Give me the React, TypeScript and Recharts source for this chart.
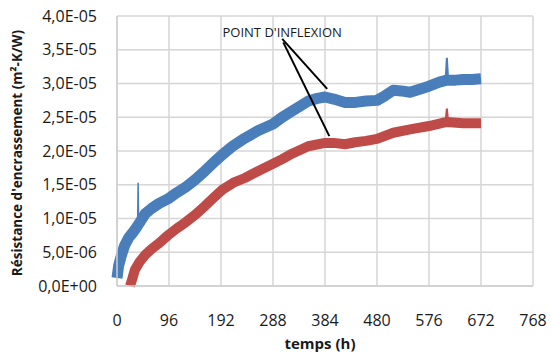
import React from "react";
import { LineChart, Line, XAxis, YAxis, CartesianGrid, ReferenceLine, ReferenceDot } from "recharts";

// time in hours, values in units of 1E-05 m²·K/W
const blueTimes = [0, 3, 8, 14, 22, 30, 37, 45, 52, 64, 77, 94, 110, 126, 145, 163, 180, 195, 215, 236, 260, 288, 305, 323, 353, 370, 384, 400, 421, 440, 460, 480, 495, 510, 525, 541, 560, 576, 595, 609, 625, 639, 655, 672];
const blueValues = [0.12, 0.3, 0.45, 0.6, 0.72, 0.8, 0.88, 0.98, 1.07, 1.15, 1.22, 1.29, 1.38, 1.46, 1.58, 1.71, 1.84, 1.95, 2.08, 2.19, 2.3, 2.4, 2.5, 2.59, 2.74, 2.78, 2.8, 2.77, 2.72, 2.72, 2.74, 2.75, 2.82, 2.9, 2.89, 2.87, 2.92, 2.96, 3.02, 3.05, 3.05, 3.06, 3.06, 3.07];
const redTimes = [24, 28, 33, 42, 52, 64, 77, 94, 110, 126, 145, 163, 180, 195, 215, 236, 260, 288, 305, 323, 353, 384, 400, 421, 440, 460, 480, 510, 541, 576, 609, 639, 672];
const redValues = [0, 0.1, 0.24, 0.36, 0.46, 0.55, 0.63, 0.75, 0.85, 0.94, 1.06, 1.19, 1.32, 1.43, 1.53, 1.6, 1.7, 1.81, 1.88, 1.96, 2.07, 2.12, 2.12, 2.1, 2.13, 2.15, 2.18, 2.27, 2.32, 2.37, 2.43, 2.41, 2.41];
const blueSpikeTimes = [38, 39, 40];
const blueSpikeValues = [0.9, 1.53, 0.9];
const blueSpike2Times = [607, 609, 611];
const blueSpike2Values = [3.1, 3.38, 3.1];
const redSpikeTimes = [607, 609, 611];
const redSpikeValues = [2.46, 2.63, 2.46];

const xTicks = [0, 96, 192, 288, 384, 480, 576, 672, 768];
const yTicks = [0, 0.5, 1, 1.5, 2, 2.5, 3, 3.5, 4];

const annotationText = "POINT D'INFLEXION";
const annotationAnchor = { t: 305, v: 3.76 };
const arrowBlue = [{ x: 305, y: 3.66 }, { x: 388, y: 2.92 }];
const arrowRed = [{ x: 307, y: 3.61 }, { x: 392, y: 2.22 }];

const toRows = (ts: number[], vs: number[]) => ts.map((t, i) => ({ t, v: vs[i] }));

const blueData = toRows(blueTimes, blueValues);
const redData = toRows(redTimes, redValues);
const blueSpike = toRows(blueSpikeTimes, blueSpikeValues);
const blueSpike2 = toRows(blueSpike2Times, blueSpike2Values);
const redSpike = toRows(redSpikeTimes, redSpikeValues);

const BLUE = "#4a7ebb";
const RED = "#be4b48";
const FONT = "'Open Sans', sans-serif";

const fmtY = (v: number) => {
  const s = (v * 1e-5).toExponential(1).replace(".", ",");
  return s.replace(/e([+-])(\d+)$/, (_m, sg, d) => "E" + sg + (d.length < 2 ? "0" + d : d));
};

export default function App() {
  return (
    <div style={{ position: "absolute", left: 0, top: 0, background: "#fff" }}>
      <LineChart width={551} height={358} margin={{ top: 16, right: 18, bottom: 0, left: 0 }}>
        <CartesianGrid stroke="#d6d6d6" strokeWidth={1.5} horizontalValues={yTicks} verticalValues={xTicks} />
        <XAxis
          type="number"
          dataKey="t"
          domain={[0, 768]}
          ticks={xTicks}
          allowDuplicatedCategory={false}
          height={72}
          tickLine={false}
          tickSize={0}
          tickMargin={29}
          axisLine={{ stroke: "#cfcfcf", strokeWidth: 1.5 }}
          tick={{ fill: "#1a1a1a", fontSize: 16, fontFamily: FONT }}
          label={{
            content: (p: any) => (
              <text
                x={p.viewBox.x + p.viewBox.width / 2 - 5}
                y={p.viewBox.y + 57}
                textAnchor="middle"
                dominantBaseline="central"
                fontFamily={FONT}
                fontSize={15}
                fontWeight="bold"
                fill="#1a1a1a"
              >
                temps (h)
              </text>
            ),
          }}
        />
        <YAxis
          type="number"
          dataKey="v"
          domain={[0, 4]}
          ticks={yTicks}
          width={117}
          tickLine={false}
          tickSize={0}
          tickMargin={20}
          tickFormatter={fmtY}
          axisLine={{ stroke: "#cfcfcf", strokeWidth: 1.5 }}
          tick={{ fill: "#1a1a1a", fontSize: 16, fontFamily: FONT }}
          label={{
            content: (p: any) => {
              const cx = p.viewBox.x + 17;
              const cy = p.viewBox.y + p.viewBox.height / 2 + 2;
              return (
                <text
                  x={cx}
                  y={cy}
                  transform={`rotate(-90, ${cx}, ${cy})`}
                  textAnchor="middle"
                  dominantBaseline="central"
                  fontFamily={FONT}
                  fontSize={13.5}
                  fontWeight="bold"
                  fill="#1a1a1a"
                >
                  Résistance d'encrassement (m²-K/W)
                </text>
              );
            },
          }}
        />
        <Line data={blueData} dataKey="v" type="linear" stroke={BLUE} strokeWidth={11} strokeLinejoin="round" dot={false} isAnimationActive={false} />
        <Line data={redData} dataKey="v" type="linear" stroke={RED} strokeWidth={10} strokeLinejoin="round" dot={false} isAnimationActive={false} />
        <Line data={blueSpike} dataKey="v" type="linear" stroke={BLUE} strokeWidth={1.5} dot={false} isAnimationActive={false} />
        <Line data={blueSpike2} dataKey="v" type="linear" stroke={BLUE} strokeWidth={2} dot={false} isAnimationActive={false} />
        <Line data={redSpike} dataKey="v" type="linear" stroke={RED} strokeWidth={2} dot={false} isAnimationActive={false} />
        <ReferenceLine segment={arrowBlue} stroke="#000" strokeWidth={2} ifOverflow="visible" />
        <ReferenceLine segment={arrowRed} stroke="#000" strokeWidth={2} ifOverflow="visible" />
        <ReferenceDot
          x={annotationAnchor.t}
          y={annotationAnchor.v}
          r={0}
          fill="none"
          stroke="none"
          ifOverflow="visible"
          label={{ value: annotationText, position: "center", fontFamily: FONT, fontSize: 13, fill: "#1a1a1a" }}
        />
      </LineChart>
    </div>
  );
}
